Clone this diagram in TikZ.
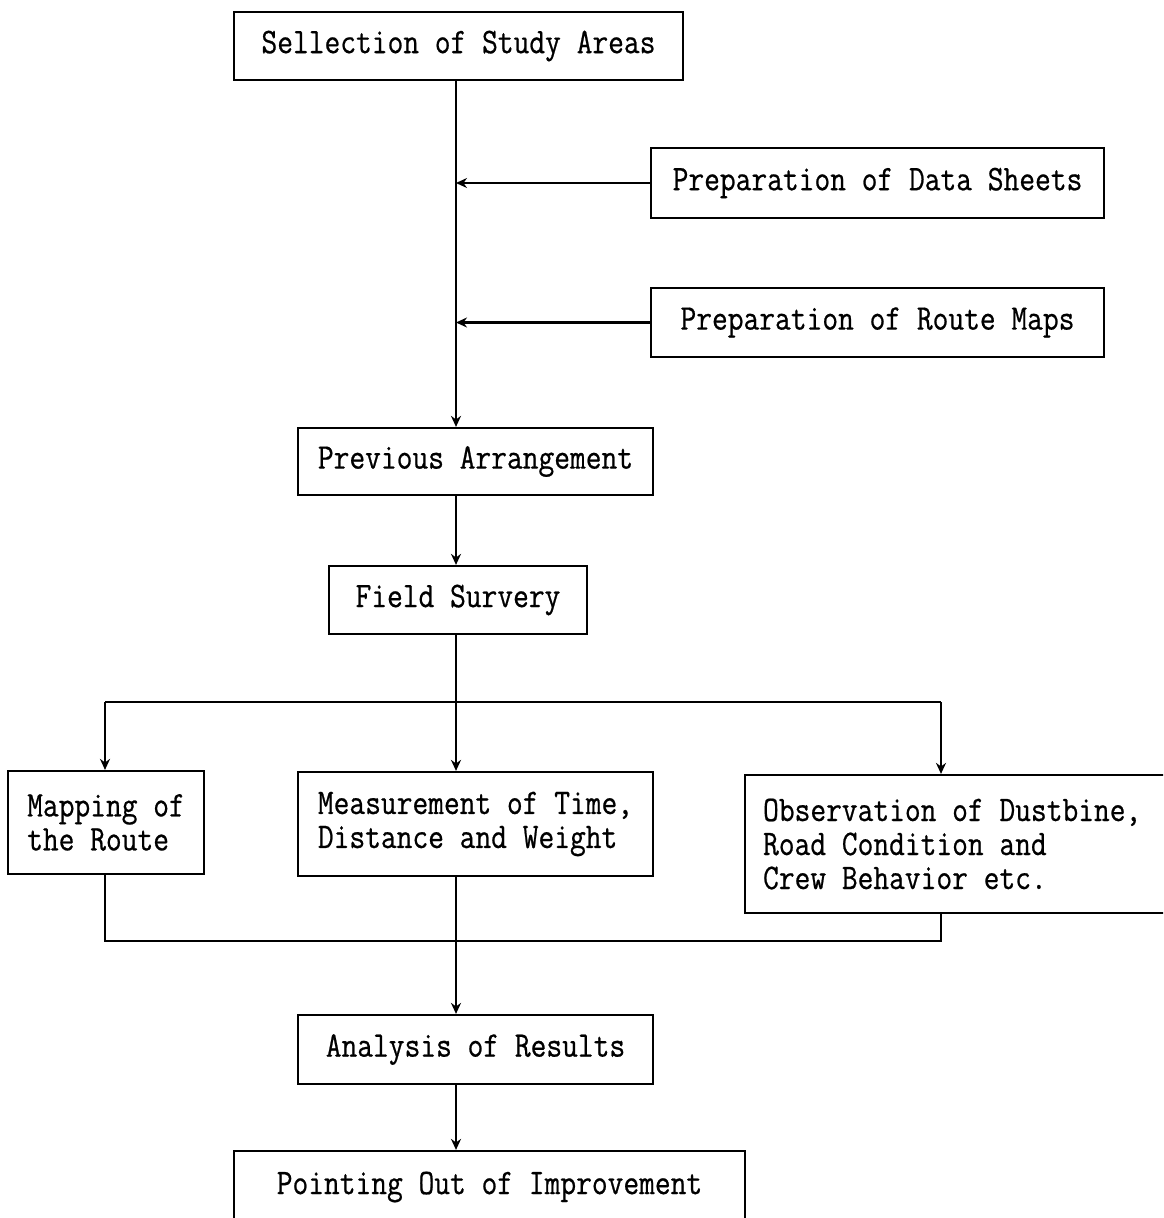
\documentclass[tikz,border=0pt]{standalone}
\usepackage{fontspec}
\setmonofont{Latin Modern Mono}[FakeStretch=0.85,FakeBold=0.6]
\usetikzlibrary{arrows.meta}
\tikzset{
  box/.style={draw, line width=2.2pt, rectangle, inner sep=0pt, align=center,
    font=\fontsize{36}{34}\ttfamily},
  lbox/.style={box, align=left},
  conn/.style={line width=2.2pt},
  arr/.style={conn, -{Stealth[length=11pt,width=10pt]}}
}
\begin{document}
\begin{tikzpicture}[x=1pt,y=-1pt]
\useasboundingbox (0,0) rectangle (1163,1218);
\clip (0,0) rectangle (1163,1218);
\node[box, minimum width=449, minimum height=68] (sel) at (458.5,46) {Sellection of Study Areas};
\node[box, minimum width=453, minimum height=70] (data) at (877.5,183) {Preparation of Data Sheets};
\node[box, minimum width=453, minimum height=69] (route) at (877.5,322.5) {Preparation of Route Maps};
\node[box, minimum width=355, minimum height=67] (prev) at (475.5,461.5) {Previous Arrangement};
\node[box, minimum width=258, minimum height=68] (field) at (458,600) {Field Survery};
\node[lbox, minimum width=196, minimum height=103] (map) at (106,822.5) {Mapping of\\the Route};
\node[lbox, minimum width=355, minimum height=104] (meas) at (475.5,824) {Measurement of Time,\\Distance and Weight};
\node[lbox, inner xsep=18pt, minimum height=138, anchor=west] (obs) at (744,844) {Observation of Dustbine,\hspace*{40pt}\\Road Condition and\\Crew Behavior etc.};
\node[box, minimum width=355, minimum height=69] (ana) at (475.5,1049.5) {Analysis of Results};
\node[box, minimum width=511, minimum height=72] (point) at (489.5,1187) {Pointing Out of Improvement};

\coordinate (spine) at (456,0);
\coordinate (lx) at (105,0);
\coordinate (rx) at (941,0);
\coordinate (bt) at (0,702);
\coordinate (bb) at (0,941);

\draw[arr] (sel.south -| spine) -- (prev.north -| spine);
\draw[arr] (data.west) -- (data.west -| spine);
\draw[arr] (route.west) -- (route.west -| spine);
\draw[arr] (prev.south -| spine) -- (field.north -| spine);
\draw[arr] (field.south -| spine) -- (meas.north -| spine);
\draw[arr] (bt -| lx) -- (map.north -| lx);
\draw[arr] (bt -| rx) -- (obs.north -| rx);
\draw[conn] (bt -| lx) -- (bt -| rx);
\draw[conn] (map.south -| lx) -- (bb -| lx) -- (bb -| rx) -- (obs.south -| rx);
\draw[arr] (meas.south -| spine) -- (ana.north -| spine);
\draw[arr] (ana.south -| spine) -- (point.north -| spine);
\end{tikzpicture}
\end{document}
